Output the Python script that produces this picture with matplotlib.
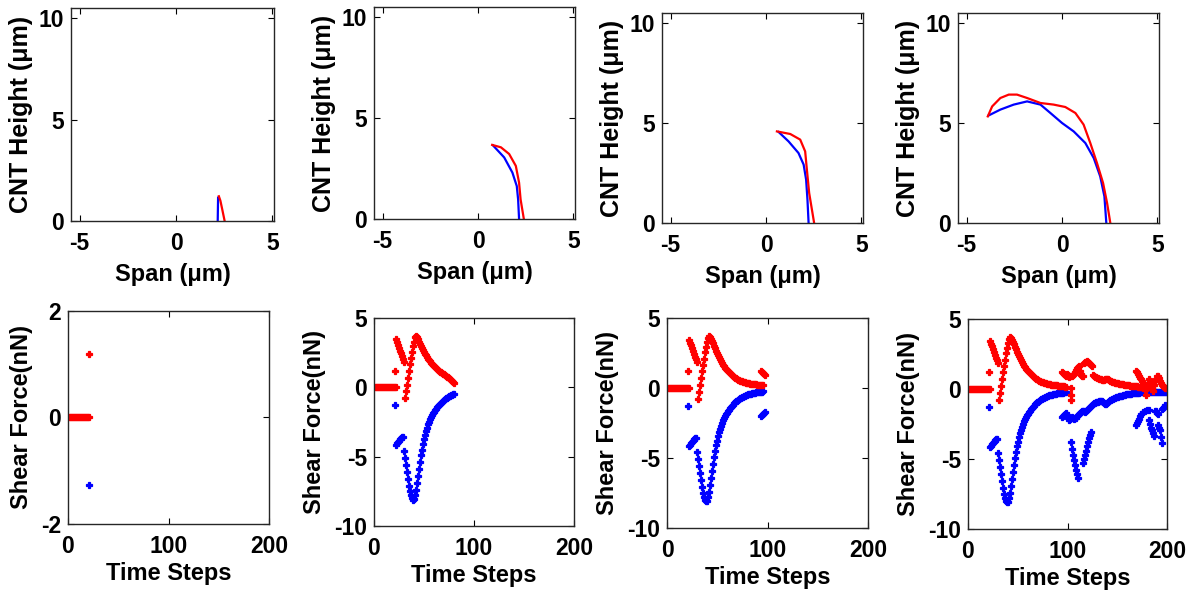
import matplotlib
matplotlib.use("Agg")
import matplotlib.pyplot as plt
import numpy as np

plt.rcParams.update({
    "font.family": ["Liberation Sans", "DejaVu Sans"],
    "font.weight": "bold",
    "axes.labelweight": "bold",
    "font.size": 16,
    "axes.linewidth": 1.0,
    "axes.edgecolor": "#262626",
    "axes.unicode_minus": False,
})

BLUE = "#0000FF"
RED = "#FF0000"

# ---- CNT shape (span vs height), one pair of curves per column ----
span_blue = [
    [2.18, 2.17, 2.16],
    [0.78, 1.37, 1.80, 2.03, 2.10, 2.15],
    [0.66, 1.18, 1.70, 1.97, 2.10, 2.17, 2.23],
    [-3.84, -3.23, -2.53, -1.83, -1.13, -0.61, 0.0, 0.61, 1.22, 1.66, 2.0, 2.22, 2.32],
]
height_blue = [
    [1.15, 0.6, 0.0],
    [3.65, 3.05, 2.3, 1.63, 0.97, 0.0],
    [4.55, 4.08, 3.5, 2.92, 2.17, 1.17, 0.0],
    [5.38, 5.67, 5.92, 6.08, 5.92, 5.5, 5.0, 4.58, 4.0, 3.25, 2.33, 1.33, 0.0],
]
span_red = [
    [2.22, 2.3, 2.4, 2.52],
    [0.74, 1.2, 1.63, 1.98, 2.15, 2.23, 2.4],
    [0.57, 1.27, 1.79, 2.05, 2.14, 2.26, 2.52],
    [-3.89, -3.66, -3.23, -2.79, -2.36, -1.83, -1.13, -0.44, 0.17, 0.70, 1.13, 1.48,
     1.83, 2.15, 2.36, 2.53],
]
height_red = [
    [1.22, 1.0, 0.55, 0.0],
    [3.67, 3.55, 3.22, 2.63, 1.8, 0.97, 0.0],
    [4.58, 4.45, 4.17, 3.58, 2.67, 1.5, 0.0],
    [5.33, 5.83, 6.25, 6.42, 6.42, 6.25, 6.0, 5.92, 5.8, 5.5, 4.92, 4.0, 3.0, 2.0, 1.0, 0.0],
]

# ---- shear force vs time step ----
zero_steps = np.arange(1, 23)
zero_force = np.zeros(len(zero_steps))
spike_step = [21]
red_spike = [1.2]
blue_spike = [-1.27]

red_upper_steps = np.arange(22, 31)
red_upper = [3.45, 3.25, 3.05, 2.85, 2.65, 2.45, 2.25, 2.05, 1.85]
red_rise_steps = np.arange(31, 43)
red_rise = [-0.75, -0.3, 0.2, 0.7, 1.2, 1.65, 2.1, 2.55, 2.95, 3.3, 3.6, 3.72]

red_decay_steps = np.arange(43, 97)
red_decay = [3.65, 3.5, 3.35, 3.18, 3.0, 2.83, 2.66, 2.5, 2.33, 2.18,
             2.04, 1.91, 1.79, 1.67, 1.56, 1.46, 1.37, 1.28, 1.2, 1.12,
             1.04, 0.97, 0.91, 0.85, 0.79, 0.74, 0.69, 0.64, 0.6, 0.56,
             0.53, 0.5, 0.47, 0.44, 0.42, 0.4, 0.38, 0.36, 0.35, 0.33,
             0.32, 0.31, 0.3, 0.29, 0.28, 0.27, 0.26, 0.25, 0.24, 0.23,
             0.22, 0.21, 0.2, 0.19]
red_decay_p2_steps = np.arange(43, 81)
red_decay_p2 = [3.62, 3.45, 3.3, 3.15, 3.0, 2.85, 2.7, 2.56, 2.42, 2.3,
                2.18, 2.07, 1.97, 1.87, 1.78, 1.69, 1.61, 1.53, 1.46, 1.39,
                1.32, 1.26, 1.2, 1.14, 1.08, 1.03, 0.98, 0.93, 0.88, 0.83,
                0.78, 0.72, 0.66, 0.6, 0.53, 0.46, 0.39, 0.32]

blue_plateau_steps = np.arange(22, 30)
blue_plateau = [-4.15, -4.05, -3.95, -3.85, -3.75, -3.65, -3.6, -3.6]
blue_dip_steps = np.arange(30, 41)
blue_dip = [-4.6, -5.1, -5.6, -6.1, -6.6, -7.1, -7.5, -7.8, -8.0, -8.1, -8.05]
blue_rise_steps = np.arange(41, 97)
blue_rise = [-7.8, -7.4, -6.9, -6.4, -5.9, -5.4, -4.9, -4.5, -4.1, -3.75,
             -3.45, -3.15, -2.9, -2.68, -2.48, -2.3, -2.14, -2.0, -1.88, -1.76,
             -1.65, -1.54, -1.44, -1.35, -1.26, -1.18, -1.1, -1.03, -0.96, -0.9,
             -0.84, -0.79, -0.74, -0.69, -0.65, -0.61, -0.57, -0.54, -0.51, -0.48,
             -0.46, -0.44, -0.42, -0.4, -0.38, -0.36, -0.35, -0.33, -0.32, -0.3,
             -0.29, -0.28, -0.27, -0.26, -0.25, -0.24]

late_steps = np.arange(94, 99)
red_late = [1.22, 1.15, 1.08, 1.0, 0.95]
blue_late = [-2.0, -1.93, -1.85, -1.77, -1.68]

# last column only: steps 97-200
red_tail_steps = np.concatenate([np.arange(97, 104), [104, 104, 104], np.arange(105, 169)])
red_tail = [0.17, 0.15, 1.05, 0.98, 0.92, 0.88, 0.95,
            0.05, -0.4, -0.8,
            0.95, 1.0, 1.05, 1.2, 1.35, 1.5, 1.58, 1.62, 1.3, 1.02,
            0.95, 0.9, 1.85, 1.9, 1.95, 2.0, 1.95, 1.88, 1.8, 1.72,
            1.65, 0.98, 0.92, 0.88, 0.84, 0.8, 0.77, 0.74, 0.71, 0.68,
            0.66, 0.64, 0.66, 0.7, 0.74, 0.72, 0.68, 0.63, 0.59, 0.55,
            0.52, 0.5, 0.48, 0.46, 0.44, 0.42, 0.41, 0.39, 0.38, 0.36,
            0.35, 0.33, 0.32, 0.31, 0.29, 0.28, 0.27, 0.26, 0.25, 0.24,
            0.23, 0.22, 0.21, 0.2]
red_zig_steps = np.arange(169, 200)
red_zig = [1.3, 1.2, 1.08, 0.95, 0.82, 0.7, 0.57, 0.4, 0.2, -0.1,
           -0.45, 0.2, 0.45, 0.68, 0.5, 0.33, 0.1, -0.15, 0.3, 0.55,
           0.75, 0.9, 0.95, 0.82, 0.6, 0.45, 0.3, 0.2, 0.12, 0.08, 0.05]
red_low_steps = np.arange(169, 186)
red_low = [0.18, 0.18, 0.17, 0.17, 0.16, 0.16, 0.15, 0.15, 0.14, 0.14,
           0.13, 0.13, 0.12, 0.12, 0.11, 0.11, 0.1]

blue_tail_steps = np.concatenate([np.arange(97, 119), np.arange(104, 112), np.arange(116, 125),
                                  np.arange(119, 201)])
blue_tail = [-0.24, -0.24, -1.85, -1.95, -2.05, -2.2, -2.15, -2.05, -2.0, -2.1,
             -2.15, -2.1, -2.05, -1.95, -1.86, -1.78, -1.7, -1.62, -1.6, -1.6,
             -1.6, -1.62,
             -3.8, -4.3, -4.7, -5.1, -5.45, -5.8, -6.1, -6.35,
             -5.3, -5.0, -4.7, -4.4, -4.1, -3.8, -3.5, -3.25, -3.05,
             -1.55, -1.48, -1.4, -1.33, -1.26, -1.2, -1.14, -1.08, -1.03, -0.98,
             -0.95, -0.92, -0.9, -0.88, -0.86, -0.85, -0.87, -0.92, -0.98, -1.05,
             -1.1, -1.0, -0.92, -0.86, -0.81, -0.77, -0.73, -0.69, -0.66, -0.63,
             -0.6, -0.57, -0.55, -0.53, -0.51, -0.49, -0.47, -0.45, -0.43, -0.41,
             -0.39, -0.37, -0.36, -0.35, -0.34, -0.33, -0.32, -0.31, -0.3, -0.29,
             -0.28, -0.27, -0.26, -0.25, -0.24, -0.23, -0.23, -0.23, -0.23, -0.23,
             -0.23, -0.23, -0.23, -0.23, -0.23, -0.23, -0.23, -0.23, -0.23, -0.23,
             -0.23, -0.23, -0.23, -0.23, -0.23, -0.23, -0.23, -0.23, -0.23, -0.23,
             -0.23, -0.23]
blue_scatter_steps = [169, 170, 171, 172, 173, 174, 176, 178, 180, 182,
                      182, 183, 184, 185, 186, 187, 188, 189, 190, 191,
                      191, 192, 193, 194, 195, 195, 196, 197, 198]
blue_scatter = [-2.6, -2.45, -2.3, -2.15, -1.95, -1.75, -1.62, -1.58, -1.52, -1.48,
                -2.2, -2.5, -2.75, -2.95, -3.15, -3.35, -1.55, -1.6, -1.7, -1.8,
                -2.55, -2.75, -2.95, -3.4, -3.85, -1.45, -1.35, -1.25, -1.15]

# axes boxes in pixels: left, top, right, bottom
top_boxes = [(71, 8, 274, 221), (374, 7, 575, 219), (662, 13, 863, 223), (958, 13, 1159, 223)]
bot_boxes = [(68, 311, 269, 524), (374, 318, 574, 526), (667, 318, 868, 528), (968, 319, 1167, 529)]

W, H = 1200, 596
fig = plt.figure(figsize=(W / 100, H / 100), dpi=100)


def make_axes(box):
    l, t, r, b = box
    ax = fig.add_axes([l / W, 1 - b / H, (r - l) / W, (b - t) / H])
    ax.tick_params(direction="in", top=True, right=True, length=4, width=0.8,
                   labelsize=16.5)
    ax.tick_params(axis="x", pad=8)
    ax.tick_params(axis="y", pad=5)
    return ax


# top row
for i, box in enumerate(top_boxes):
    ax = make_axes(box)
    ax.plot(span_blue[i], height_blue[i], color=BLUE, lw=1.6)
    ax.plot(span_red[i], height_red[i], color=RED, lw=1.6)
    ax.set_xlim(-5.45, 5.08)
    ax.set_ylim(0, 10.5)
    ax.set_xticks([-5, 0, 5])
    ax.set_yticks([0, 5, 10])
    ax.set_xlabel("Span (μm)", fontsize=17, labelpad=6)
    ax.set_ylabel("CNT Height (μm)", fontsize=18, labelpad=4)

# bottom row
mk = dict(ls="none", marker="P", ms=5, mew=0.9)
for i, box in enumerate(bot_boxes):
    ax = make_axes(box)
    if i == 0:
        ax.plot(spike_step, blue_spike, color=BLUE, **mk)
        ax.plot(zero_steps[:-1], zero_force[:-1], color=RED, **mk)
        ax.plot(spike_step, red_spike, color=RED, **mk)
        ax.set_ylim(-2, 2)
        ax.set_yticks([-2, 0, 2])
    else:
        ax.plot(spike_step, blue_spike, color=BLUE, **mk)
        ax.plot(blue_plateau_steps, blue_plateau, color=BLUE, **mk)
        ax.plot(blue_dip_steps, blue_dip, color=BLUE, **mk)
        if i == 1:
            ax.plot(blue_rise_steps[:40], blue_rise[:40], color=BLUE, **mk)
        else:
            ax.plot(blue_rise_steps, blue_rise, color=BLUE, **mk)
            ax.plot(late_steps, blue_late, color=BLUE, **mk)
        if i == 3:
            ax.plot(blue_tail_steps, blue_tail, color=BLUE, **mk)
            ax.plot(blue_scatter_steps, blue_scatter, color=BLUE, **mk)
        ax.plot(zero_steps, zero_force, color=RED, **mk)
        ax.plot(spike_step, red_spike, color=RED, **mk)
        ax.plot(red_upper_steps, red_upper, color=RED, **mk)
        ax.plot(red_rise_steps, red_rise, color=RED, **mk)
        if i == 1:
            ax.plot(red_decay_p2_steps, red_decay_p2, color=RED, **mk)
        else:
            ax.plot(red_decay_steps, red_decay, color=RED, **mk)
            ax.plot(late_steps, red_late, color=RED, **mk)
        if i == 3:
            ax.plot(red_tail_steps, red_tail, color=RED, **mk)
            ax.plot(red_low_steps, red_low, color=RED, **mk)
            ax.plot(red_zig_steps, red_zig, color=RED, **mk)
        ax.set_ylim(-10, 5)
        ax.set_yticks([-10, -5, 0, 5])
    ax.set_xlim(0, 200)
    ax.set_xticks([0, 100, 200])
    ax.set_xlabel("Time Steps", fontsize=17, labelpad=3)
    ax.set_ylabel("Shear Force(nN)", fontsize=17, labelpad=6)

fig.savefig("out.png", dpi=100, facecolor="white")
